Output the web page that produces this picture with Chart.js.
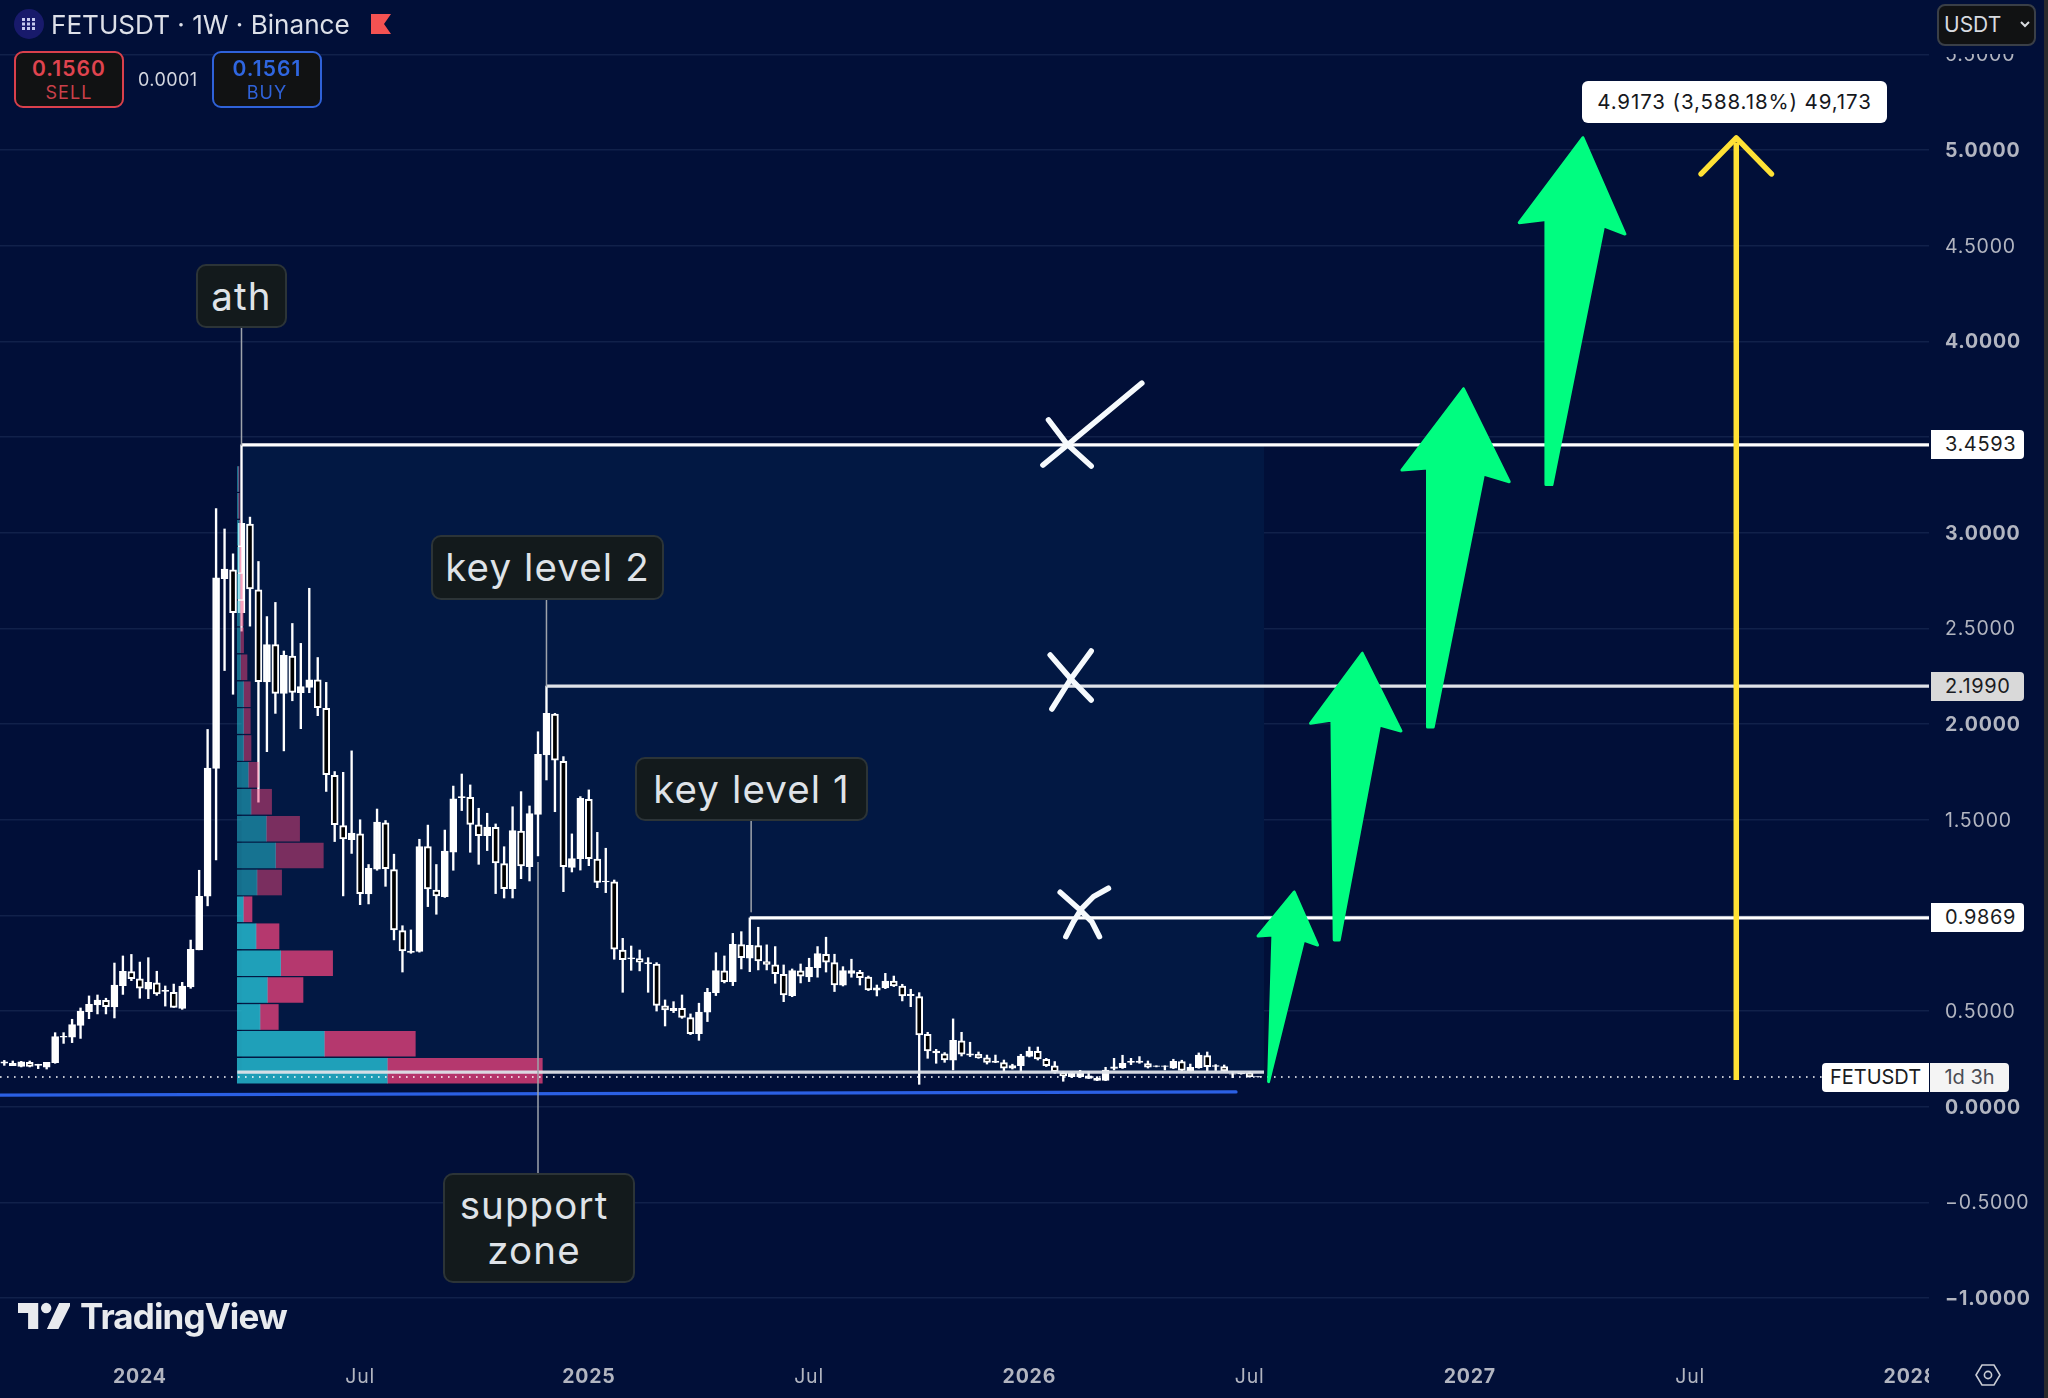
<!DOCTYPE html>
<html><head><meta charset="utf-8">
<script src="https://cdn.jsdelivr.net/npm/chart.js@4/dist/chart.umd.min.js"></script>
<style>
html,body{margin:0;padding:0;background:#010f38;width:2048px;height:1398px;overflow:hidden;font-family:Inter,"Noto Sans",sans-serif}
#wrap{position:relative;width:2048px;height:1398px}
canvas{position:absolute;left:0;top:0}
.o{position:absolute;box-sizing:border-box}
.call{background:#131a1c;border:2px solid #2c3437;border-radius:10px;color:#dfe3e8;font-size:38.5px;letter-spacing:1.1px;line-height:45px;text-align:center;display:flex;align-items:center;justify-content:center}
.tag{left:1931px;width:93px;height:29px;background:#fff;border-radius:0 4px 4px 0;color:#1a1c22;font-size:20px;line-height:29px;padding-left:14px;letter-spacing:.6px}
.trade{top:51px;width:110px;height:57px;background:#111213;border-radius:9px;border:2px solid;text-align:center;font-size:21px;letter-spacing:1.1px}
</style></head><body><div id="wrap"><canvas id="c" width="2048" height="1398"></canvas>

<div class="o" style="left:14px;top:9px;width:30px;height:30px;border-radius:50%;background:#181a6b"></div>
<svg class="o" style="left:21px;top:17px" width="16" height="14" fill="#c6c9ee"><rect x="1" y="1" width="3" height="3"/><rect x="6" y="1" width="3" height="3"/><rect x="11" y="1" width="3" height="3"/><rect x="1" y="5.5" width="3" height="3"/><rect x="6" y="5.5" width="3" height="3"/><rect x="11" y="5.5" width="3" height="3"/><rect x="1" y="10" width="3" height="3"/><rect x="6" y="10" width="3" height="3"/><rect x="11" y="10" width="3" height="3"/></svg>
<div class="o" style="left:51px;top:9px;font-size:26.1px;line-height:32px;color:#dde0e8;white-space:nowrap">FETUSDT · 1W · Binance</div>
<svg class="o" style="left:370px;top:13px" width="22" height="22"><path d="M1 1H21L14 11L21 21H1Z" fill="#f45252"/></svg>

<div class="o trade" style="left:14px;border-color:#d9404c;">
  <div style="color:#e0444f;font-weight:600;line-height:26px;margin-top:3px">0.1560</div>
  <div style="color:#c9404a;font-size:18px;line-height:22px">SELL</div></div>
<div class="o" style="left:138px;top:69px;font-size:18px;line-height:22px;color:#d3d6df;letter-spacing:.4px">0.0001</div>
<div class="o trade" style="left:212px;border-color:#2f62d9;">
  <div style="color:#2f66e0;font-weight:600;line-height:26px;margin-top:3px">0.1561</div>
  <div style="color:#2f62d9;font-size:18px;line-height:22px">BUY</div></div>

<div class="o" style="left:1930px;top:0;width:118px;height:54px;background:#010f38"></div>
<div class="o" style="left:1937px;top:4px;width:99px;height:42px;background:#111213;border:2px solid #3a3f47;border-radius:8px;color:#d8dbe0;font-size:21px;line-height:38px;padding-left:5px">USDT</div>
<svg class="o" style="left:2019px;top:20px" width="12" height="10"><path d="M2 2L6 6L10 2" fill="none" stroke="#d8dbe0" stroke-width="2"/></svg>

<div class="o" style="left:1582px;top:81px;width:305px;height:42px;background:#fff;border-radius:6px;color:#16181d;font-size:20.5px;line-height:42px;text-align:center;letter-spacing:.9px;white-space:nowrap">4.9173 (3,588.18%) 49,173</div>

<div class="o call" style="left:196px;top:264px;width:91px;height:64px">ath</div>
<div class="o call" style="left:431px;top:535px;width:233px;height:65px">key level 2</div>
<div class="o call" style="left:635px;top:757px;width:233px;height:64px">key level 1</div>
<div class="o call" style="left:443px;top:1173px;width:192px;height:110px;padding-right:10px"><span>support<br>zone</span></div>

<div class="o tag" style="top:430px">3.4593</div>
<div class="o tag" style="top:672px;background:#d9d9d9">2.1990</div>
<div class="o tag" style="top:903px">0.9869</div>
<div class="o" style="left:1822px;top:1063px;width:107px;height:29px;background:#fff;border-radius:4px 0 0 4px;color:#1a1c22;font-size:20px;line-height:29px;text-align:center">FETUSDT</div>
<div class="o" style="left:1930px;top:1063px;width:79px;height:29px;background:#f4f4f4;border-radius:0 4px 4px 0;color:#4a4d55;font-size:20px;line-height:29px;text-align:center">1d 3h</div>

<svg class="o" style="left:18px;top:1300px" width="52" height="32" viewBox="0 0 36 22" fill="#e8eaee"><path d="M14 2H0v7h7v11h7V2zm14 18h-8l8.5-18H37l-9 18z"/><circle cx="19.5" cy="5.5" r="3.6"/></svg>
<div class="o" style="left:80px;top:1295px;font-size:35px;line-height:42px;font-weight:700;color:#e8eaee;letter-spacing:-.9px;white-space:nowrap">TradingView</div>

<div class="o" style="left:1929px;top:1352px;width:119px;height:46px;background:#010f38"></div>
<svg class="o" style="left:1975px;top:1362px" width="26" height="26" fill="none" stroke="#c9ccd4" stroke-width="1.6"><path d="M7 3H19L25 13L19 23H7L1 13Z"/><circle cx="13" cy="13" r="3.6"/></svg>
<div class="o" style="left:2044px;top:0;width:4px;height:1398px;background:#2a2a2c"></div>
</div>
<script>
// Weekly candles, FETUSDT (index = week on the axis)
const opens = [.227,.215,.211,.232,.216,.206,.230,.364,.363,.425,.497,.532,.556,.521,.633,.706,.669,.615,.647,.603,
.598,.514,.626,.82,1.10,1.768,2.76,2.806,2.582,3.046,2.702,2.22,2.416,2.16,2.356,2.164,2.192,2.232,2.082,1.732,
1.47,1.396,1.426,1.112,1.242,1.484,1.24,.92,.806,.812,1.36,1.132,1.098,1.33,1.616,1.617,1.473,1.417,1.46,1.271,
1.14,1.441,1.255,1.528,1.839,2.053,1.805,1.251,1.297,1.607,1.295,1.175,1.176,.819,.772,.774,.748,.746,.527,.502,
.514,.466,.382,.494,.596,.71,.654,.847,.776,.842,.758,.741,.692,.581,.71,.678,.727,.797,.753,.635,
.697,.703,.677,.609,.621,.657,.631,.581,.575,.378,.281,.276,.243,.344,.269,.274,.255,.232,.230,.201,
.215,.263,.29,.248,.213,.178,.157,.157,.148,.138,.138,.2,.204,.232,.232,.225,.21,.21,.202,.236,.189,.204,.267,.21,.21,.170,.172,.175,.156];
const closes = [.234,.227,.234,.211,.222,.232,.366,.368,.429,.500,.535,.558,.523,.636,.708,.669,.619,.650,.589,.608,
.519,.631,.822,1.10,1.77,2.764,2.81,2.582,3.05,2.706,2.222,2.416,2.16,2.36,2.166,2.196,2.232,2.086,1.736,1.474,
1.40,1.43,1.114,1.246,1.488,1.244,.924,.814,.814,1.36,1.138,1.102,1.336,1.61,1.621,1.476,1.417,1.462,1.274,1.14,
1.443,1.258,1.532,1.842,2.056,1.812,1.255,1.297,1.612,1.297,1.173,1.18,.823,.769,.778,.755,.753,.53,.506,.514,
.467,.382,.494,.598,.711,.654,.849,.779,.844,.762,.744,.696,.584,.711,.682,.729,.80,.755,.636,.711,
.711,.675,.61,.622,.657,.631,.579,.588,.375,.291,.291,.244,.347,.274,.276,.255,.232,.239,.202,.215,
.265,.291,.25,.215,.183,.161,.175,.175,.161,.148,.192,.209,.227,.237,.239,.206,.213,.213,.237,.19,.206,.27,.209,.215,.187,.172,.174,.157,.157];
const highs = [.242,.239,.237,.239,.222,.232,.387,.387,.457,.516,.579,.584,.567,.751,.788,.796,.756,.779,.708,.631,
.641,.650,.871,1.236,1.972,3.126,3.02,2.89,3.46,3.082,2.85,2.562,2.636,2.382,2.526,2.422,2.71,2.348,2.218,1.752,
1.748,1.86,1.50,1.266,1.556,1.496,1.32,.946,.924,1.398,1.472,1.266,1.446,1.676,1.739,1.682,1.56,1.534,1.478,1.359,
1.568,1.647,1.572,1.96,2.199,2.056,1.83,1.426,1.621,1.656,1.434,1.351,1.185,.88,.84,.819,.779,.753,.558,.549,
.584,.485,.541,.619,.805,.788,.906,.915,.987,.938,.846,.837,.741,.72,.746,.776,.837,.886,.797,.732,
.771,.713,.683,.636,.697,.683,.64,.614,.596,.389,.30,.283,.459,.389,.337,.286,.27,.27,.244,.222,
.274,.312,.312,.253,.236,.183,.178,.19,.183,.157,.206,.253,.269,.253,.262,.239,.214,.214,.248,.243,.223,.281,.286,.22,.218,.183,.176,.183,.157];
const lows = [.216,.215,.208,.208,.199,.197,.227,.331,.335,.357,.460,.485,.485,.464,.587,.659,.567,.565,.582,.526,
.519,.509,.619,.82,1.05,1.29,2.28,2.156,2.486,2.512,1.592,1.856,2.056,1.86,2.122,1.976,2.164,2.044,1.648,1.386,
1.102,1.324,1.056,1.06,1.236,1.152,.872,.704,.802,.808,1.046,1.006,1.094,1.236,1.548,1.33,1.267,1.339,1.114,1.091,
1.091,1.192,1.18,1.311,1.708,1.542,1.124,1.227,1.237,1.26,1.145,1.119,.771,.598,.713,.71,.598,.50,.422,.492,
.462,.377,.347,.445,.581,.647,.633,.72,.706,.715,.715,.645,.549,.575,.647,.654,.677,.704,.602,.631,
.677,.636,.607,.579,.617,.628,.553,.523,.117,.253,.227,.232,.192,.265,.262,.253,.223,.230,.183,.197,
.183,.26,.244,.21,.175,.133,.152,.152,.147,.136,.136,.192,.2,.22,.227,.202,.208,.192,.199,.187,.185,.201,.187,.189,.185,.152,.170,.154,.155];

// Volume profile rows
const profilePrices = [.188,.329,.469,.610,.750,.891,1.032,1.172,1.313,1.453,1.594,1.735,1.875,2.016,2.156,2.297,2.438,2.578,2.719,2.859,3.0,3.141,3.281];
const buyVolume  = [150,87,22.7,30,43.3,18.7,6,19.7,38.3,29,13.7,11,6.3,6.3,6.3,3.3,3,2.7,2.7,2,2,1,1];
const sellVolume = [155,91,18.3,35.7,52,23,8.7,24.6,47.7,33.3,20.6,10,7.4,6.7,6.7,6.4,3.3,3.3,2.3,1.7,1,1,.7];
const profileBright = 7;

// Horizontal levels and drawings, all in (week, price)
const keyLevels = [3.4593,2.1990,.9869];
const keyLevelStarts = [28,64,88];
const supportLevel = .181, supportStart = 27.5, supportEnd = 148.7;
const lastPrice = .155;
const blueX = [-1,145.4], blueY = [.06,.077];
const measureShaftX = [204.45,204.45], measureShaftY = [.139,5.04];
const measureHeadX = [200.3,204.45,208.6], measureHeadY = [4.876,5.064,4.876];
const arrowA = {x:[152.27,155.02,153.37,149.24,149.75,148.0,152.27], y:[1.122,.845,.871,.131,.898,.892,1.122]};
const arrowB = {x:[160.3,164.87,162.34,157.58,156.99,156.72,154.19,160.3], y:[2.37,1.964,1.995,.871,.871,2.021,2.004,2.37]};
const arrowC = {x:[172.25,177.65,174.61,168.68,168.03,168.0,164.98,172.25], y:[3.752,3.267,3.307,1.985,1.985,3.339,3.328,3.752]};
const arrowD = {x:[186.35,191.31,188.78,182.69,181.98,181.98,178.83,186.35], y:[5.065,4.562,4.604,3.252,3.252,4.637,4.621,5.065]};
const crossStrokes = [
 {x:[122.6,125.62,134.28], y:[3.354,3.464,3.782]},
 {x:[123.26,125.43,128.3], y:[3.59,3.464,3.349]},
 {x:[123.66,125.82,128.3], y:[2.079,2.231,2.382]},
 {x:[123.46,126.0,128.3], y:[2.361,2.231,2.126]},
 {x:[125.31,126.21,127.2,128.57,130.34], y:[.889,.967,1.037,1.098,1.142]},
 {x:[124.64,127.0,128.38,129.28], y:[1.121,1.028,.967,.889]}
];
const connectors = [
 {x:[28,28], y:[4.07,3.4593]},
 {x:[64,64], y:[2.648,2.199]},
 {x:[88.16,88.16], y:[1.499,1.019]},
 {x:[63,63], y:[-.347,1.279]}
];
const boxX = [28,148.7,148.7,28,28], boxY = [3.4593,3.4593,.181,.181,3.4593];

// Axes
const xMin = -0.508, xMax = 227.2, yMin = -1.2718, yMax = 5.7851;
const xTickWeeks = [16,42,69,95,121,147,173,199,225];
const xTickNames = ['2024','Jul','2025','Jul','2026','Jul','2027','Jul','2028'];
const yTickValues = [-1,-.5,0,.5,1,1.5,2,2.5,3,3.5,4,4.5,5,5.5];
const yTicksUnderTags = [1,3.5];

const pts = (xs,ys)=>xs.map((x,k)=>({x,y:ys[k]}));
const line = (xs,ys,color,width,extra)=>Object.assign({type:'line',data:pts(xs,ys),borderColor:color,borderWidth:width,
  pointRadius:0,tension:0,fill:false,order:1,borderCapStyle:'round',borderJoinStyle:'round'},extra||{});
const shape = (a)=>line(a.x,a.y,'#00fd80',3,{fill:'shape',backgroundColor:'#00fd80',order:0});

const idx = opens.map((_,i)=>i);
const up = opens.map((o,i)=>closes[i]>=o);
const datasets = [
  line(boxX,boxY,'rgba(0,0,0,0)',0,{fill:'shape',backgroundColor:'#021843',order:30}),
  {type:'bar',order:20,grouped:false,barThickness:1.7,backgroundColor:'#ffffff',data:idx.map(i=>({x:i,y:[lows[i],highs[i]]}))},
  {type:'bar',order:19,grouped:false,barThickness:7,borderSkipped:false,borderWidth:2,borderColor:'#ffffff',
   backgroundColor:up.map(u=>u?'#ffffff':'#000000'),data:idx.map(i=>({x:i,y:[opens[i],closes[i]]}))},
  {type:'bar',indexAxis:'y',xAxisID:'xVol',yAxisID:'y',order:5,grouped:false,barThickness:25,
   backgroundColor:profilePrices.map((_,k)=>k<profileBright?'rgba(41,205,224,.75)':'rgba(41,205,224,.5)'),
   data:profilePrices.map((p,k)=>({y:p,x:[0,buyVolume[k]]}))},
  {type:'bar',indexAxis:'y',xAxisID:'xVol',yAxisID:'y',order:5,grouped:false,barThickness:25,
   backgroundColor:profilePrices.map((_,k)=>k<profileBright?'rgba(241,67,124,.75)':'rgba(241,67,124,.5)'),
   data:profilePrices.map((p,k)=>({y:p,x:[buyVolume[k],buyVolume[k]+sellVolume[k]]}))},
  line([xMin,215],[lastPrice,lastPrice],'#ffffff',1.6,{borderDash:[1.6,5.4],borderCapStyle:'butt',order:4}),
  line(blueX,blueY,'#2b60e4',3.2,{order:3}),
  line([supportStart,supportEnd],[supportLevel,supportLevel],'rgba(222,226,232,.95)',3.2,{borderCapStyle:'butt',order:2}),
];
keyLevels.forEach((v,k)=>datasets.push(line([keyLevelStarts[k],xMax],[v,v],k==1?'#dfe2e8':'#ffffff',3.2,{borderCapStyle:'butt',order:2})));
connectors.forEach(c=>datasets.push(line(c.x,c.y,'#9ea3ab',1.5,{borderCapStyle:'butt',order:1})));
crossStrokes.forEach(c=>datasets.push(line(c.x,c.y,'#f6fafd',5.5,{order:1})));
[arrowA,arrowB,arrowC,arrowD].forEach(a=>datasets.push(shape(a)));
datasets.push(line(measureShaftX,measureShaftY,'#ffe135',5.5,{borderCapStyle:'butt',order:0}));
datasets.push(line(measureHeadX,measureHeadY,'#ffe135',5.5,{order:0}));

const noPad = s=>{s.paddingTop=0;s.paddingBottom=0;s.paddingLeft=0;s.paddingRight=0;};
const spacing = {id:'spacing',beforeDraw(ch){ch.ctx.letterSpacing='0.8px';}};
const fmt = v => yTicksUnderTags.includes(v)?'':(v<0?'\u2212':'')+Math.abs(v).toFixed(4);
new Chart(document.getElementById('c'),{
  type:'bar',
  data:{datasets},
  plugins:[spacing],
  options:{
    responsive:false,animation:false,devicePixelRatio:1,
    layout:{padding:0},
    plugins:{legend:{display:false},tooltip:{enabled:false},title:{display:false}},
    scales:{
      x:{type:'linear',position:'bottom',offset:false,min:xMin,max:xMax,grid:{display:false,offset:false},border:{display:false},
        afterBuildTicks:s=>{s.ticks=xTickWeeks.map(v=>({value:v}));},
        afterFit:s=>{s.height=48;noPad(s);},
        ticks:{autoSkip:false,maxRotation:0,padding:7.5,color:'#b2b5c0',
          callback:(v)=>xTickNames[xTickWeeks.indexOf(v)],
          font:(c)=>{const n=xTickNames[c.index]||'';return {family:'Inter',size:19.5,weight:n==='Jul'?'400':'700'};}}},
      xVol:{type:'linear',axis:'x',display:false,offset:false,min:-237.3,max:1691.7},
      y:{type:'linear',position:'right',offset:false,min:yMin,max:yMax,border:{display:false},
        grid:{color:'#11214a',lineWidth:1.4,drawTicks:false,offset:false},
        afterBuildTicks:s=>{s.ticks=yTickValues.map(v=>({value:v}));},
        afterFit:s=>{s.width=119;noPad(s);},
        ticks:{autoSkip:false,padding:16,crossAlign:'near',labelOffset:1,color:'#b2b5c0',callback:fmt,
          font:(c)=>{const v=c.tick?c.tick.value:0;return {family:'Inter',size:19.5,weight:Number.isInteger(v)?'700':'400'};}}}
    }
  }
});
</script></body></html>
